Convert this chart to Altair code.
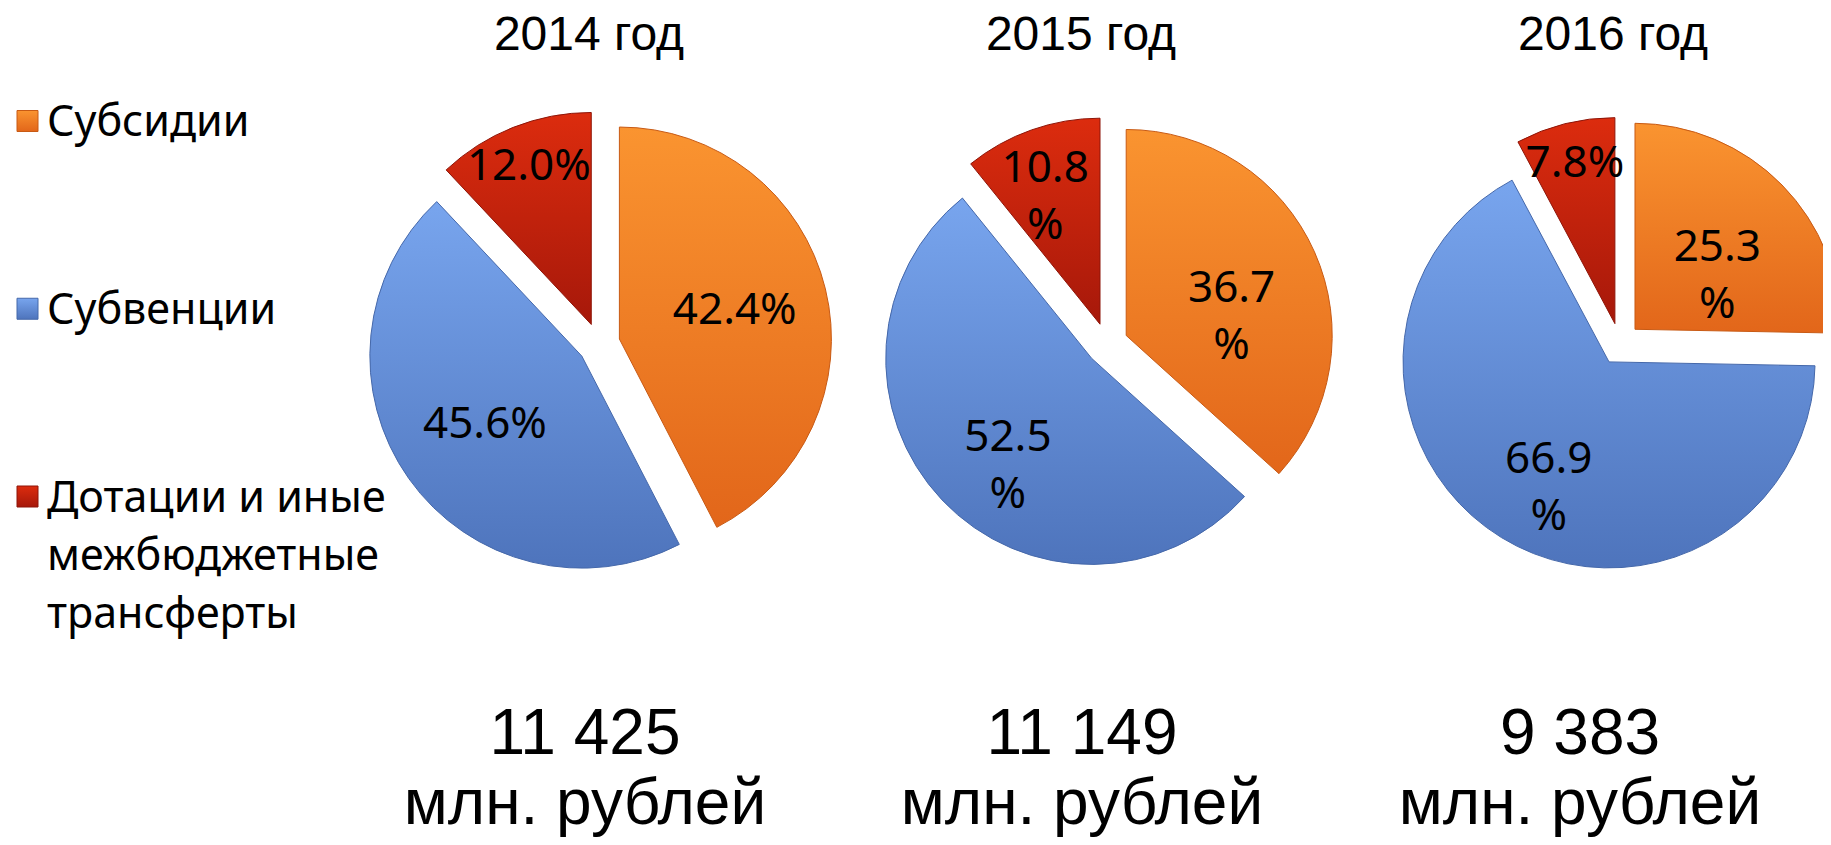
import math
import altair as alt
import pandas as pd

# ---------------- data ----------------
years = ["2014 год", "2015 год", "2016 год"]
categories = ["Субсидии", "Субвенции", "Дотации и иные межбюджетные трансферты"]
legend_labels = ["Субсидии", "Субвенции", "Дотации и иные|межбюджетные|трансферты"]
subsidies = [42.4, 36.7, 25.3]
subventions = [45.6, 52.5, 66.9]
grants_other = [12.0, 10.8, 7.8]
totals = ["11 425", "11 149", "9 383"]
total_unit = "млн. рублей"
# whether the "%" sign of a slice label wraps onto a second line (per year, per category)
label_wrap = [[False, False, False], [True, True, True], [True, True, False]]

# ---------------- styles ----------------
light = ["#FA9430", "#78A5EE", "#DC2C0E"]
dark = ["#E2661A", "#4E74BC", "#A6180A"]
edge = ["#C85A14", "#4568AA", "#8E1508"]

H = 829            # panel height
LW = 340           # legend panel width
PW = 507           # pie panel width
CY = 336           # pie centre from top of panel
EXPL = 21          # explosion distance, px
panel_widths = [PW, PW, 1815 - LW - 2 * PW]
panel_cx = [251, 252, 258]
panel_r = [212, 206, 206]
title_dx = [-10, -26, -7]
total_dx = [-14, -25, -40]

rows = []
for yi, y in enumerate(years):
    vals = [subsidies[yi], subventions[yi], grants_other[yi]]
    start = 0.0
    for ci, (c, v) in enumerate(zip(categories, vals)):
        txt = f"{v:.1f}|%" if label_wrap[yi][ci] else f"{v:.1f}%"
        rows.append(dict(year=y, cat=c, value=v, t0=start, t1=start + v, label=txt))
        start += v
df = pd.DataFrame(rows)


def grad(i):
    return alt.LinearGradient(
        gradient="linear", x1=0, y1=0, x2=0, y2=1,
        stops=[alt.GradientStop(color=light[i], offset=0),
               alt.GradientStop(color=dark[i], offset=1)],
    )


theta_scale = alt.Scale(domain=[0, 100], range=[0, 2 * math.pi])


def pie_panel(yi):
    w = panel_widths[yi]
    cx = panel_cx[yi]
    R = panel_r[yi]
    E = EXPL / R
    xs = alt.Scale(domain=[-cx / R, (w - cx) / R], nice=False, zero=False)
    ys = alt.Scale(domain=[-(H - CY) / R, CY / R], nice=False, zero=False)
    base = alt.Chart(df[df.year == years[yi]]).transform_calculate(
        mid="(datum.t0 + datum.t1) / 100 * PI",
        f="datum.value < 15 ? 0.8 : 0.56",
    ).transform_calculate(
        ex=f"{E} * sin(datum.mid)",
        ey=f"{E} * cos(datum.mid)",
        lx=f"({E} + datum.f) * sin(datum.mid)",
        ly=f"({E} + datum.f) * cos(datum.mid)",
        lines="split(datum.label, '|')",
    )
    layers = []
    for ci, cat in enumerate(categories):
        layers.append(
            base.transform_filter(alt.datum.cat == cat)
            .mark_arc(outerRadius=R, fill=grad(ci), stroke=edge[ci], strokeWidth=1, clip=True)
            .encode(
                x=alt.X("ex:Q", scale=xs, axis=None),
                y=alt.Y("ey:Q", scale=ys, axis=None),
                theta=alt.Theta("t0:Q", scale=theta_scale),
                theta2="t1:Q",
            )
        )
    labels = base.mark_text(
        font="Noto Sans", fontSize=44, lineHeight=57, color="black",
        align="center", baseline="middle",
    ).encode(
        x=alt.X("lx:Q", scale=xs, axis=None),
        y=alt.Y("ly:Q", scale=ys, axis=None),
        text="lines:N",
    )
    info = pd.DataFrame({"year": [years[yi]], "total": [totals[yi]], "unit": [total_unit]})
    title = alt.Chart(info).mark_text(
        font="Liberation Sans", fontSize=48, color="black", align="center", baseline="alphabetic"
    ).encode(x=alt.value(cx + title_dx[yi]), y=alt.value(42), text="year:N")
    tot = alt.Chart(info).mark_text(
        font="Liberation Sans", fontSize=64, color="black", align="center", baseline="alphabetic"
    ).encode(x=alt.value(cx + total_dx[yi]), y=alt.value(746), text="total:N")
    unit = alt.Chart(info).mark_text(
        font="Liberation Sans", fontSize=64, color="black", align="center", baseline="alphabetic",
    ).encode(x=alt.value(cx + total_dx[yi]), y=alt.value(816), text="unit:N")
    return alt.layer(*layers, labels, title, tot, unit).properties(width=w, height=H)


# ---------------- legend panel ----------------
leg_df = pd.DataFrame({"cat": categories, "label": legend_labels})
leg_y = alt.Y("cat:N", scale=alt.Scale(type="point", domain=categories, range=[113, 488.5], padding=0), axis=None)
leg_layers = []
for ci, cat in enumerate(categories):
    leg_layers.append(
        alt.Chart(leg_df).transform_filter(alt.datum.cat == cat)
        .mark_square(size=441, fill=grad(ci), stroke=edge[ci], strokeWidth=1, opacity=1)
        .encode(x=alt.value(19.5), y=leg_y)
    )
leg_text = alt.Chart(leg_df).transform_calculate(
    lines="split(datum.label, '|')"
).mark_text(
    font="Noto Sans", fontSize=43, lineHeight=58, color="black",
    align="left", baseline="alphabetic", dy=15,
).encode(x=alt.value(39), y=leg_y, text="lines:N")
legend = alt.layer(*leg_layers, leg_text).properties(width=LW, height=H)

chart = alt.hconcat(
    legend, pie_panel(0), pie_panel(1), pie_panel(2), spacing=0, padding=0, bounds="flush"
).configure_view(stroke=None)

chart.save("out.html", embed_options={"renderer": "svg", "actions": False})
